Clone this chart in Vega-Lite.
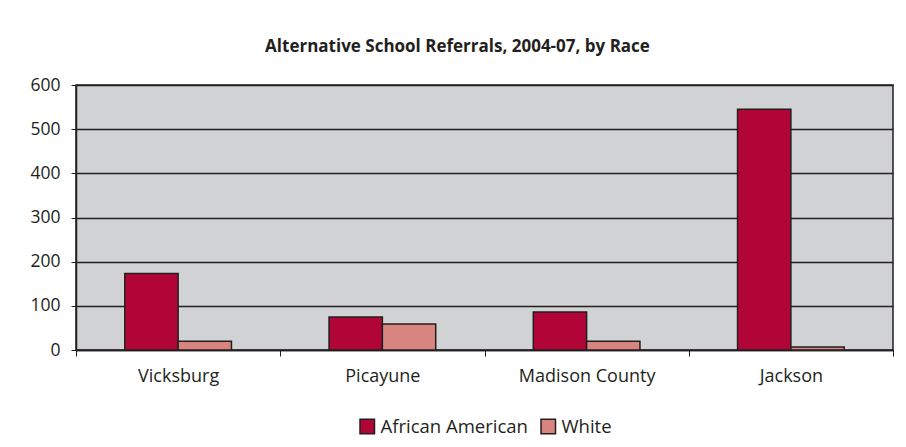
{
  "$schema": "https://vega.github.io/schema/vega-lite/v6.json",
  "width": 817,
  "height": 265,
  "padding": {"left": 29, "top": 38, "right": 10, "bottom": 8},
  "background": "white",
  "title": {
    "text": "Alternative School Referrals, 2004-07, by Race",
    "font": "Open Sans",
    "fontSize": 17,
    "fontWeight": "bold",
    "color": "#231f20",
    "offset": 20,
    "dx": -27
  },
  "data": {
    "values": [
      {"city": "Vicksburg", "race": "African American", "referrals": 173},
      {"city": "Vicksburg", "race": "White", "referrals": 20},
      {"city": "Picayune", "race": "African American", "referrals": 75},
      {"city": "Picayune", "race": "White", "referrals": 59},
      {"city": "Madison County", "race": "African American", "referrals": 86},
      {"city": "Madison County", "race": "White", "referrals": 20},
      {"city": "Jackson", "race": "African American", "referrals": 545},
      {"city": "Jackson", "race": "White", "referrals": 7}
    ]
  },
  "mark": {"type": "bar", "stroke": "#231f20", "strokeWidth": 1.5},
  "encoding": {
    "x": {
      "field": "city",
      "type": "nominal",
      "sort": ["Vicksburg", "Picayune", "Madison County", "Jackson"],
      "scale": {"paddingInner": 0, "paddingOuter": 0},
      "axis": {
        "title": null,
        "labelAngle": 0,
        "tickBand": "extent",
        "tickSize": 6,
        "tickColor": "#231f20",
        "domainColor": "#231f20",
        "domainWidth": 1.5,
        "labelFont": "Open Sans",
        "labelFontSize": 18,
        "labelColor": "#231f20",
        "labelPadding": 11
      }
    },
    "xOffset": {
      "field": "race",
      "type": "nominal",
      "scale": {"paddingInner": 0, "paddingOuter": 0.915}
    },
    "y": {
      "field": "referrals",
      "type": "quantitative",
      "scale": {"domain": [0, 600], "nice": false},
      "axis": {
        "title": null,
        "values": [0, 100, 200, 300, 400, 500, 600],
        "grid": true,
        "gridColor": "#231f20",
        "gridWidth": 1.5,
        "gridOpacity": 1,
        "tickSize": 5,
        "tickColor": "#231f20",
        "domainColor": "#231f20",
        "domainWidth": 1.5,
        "labelFont": "Open Sans",
        "labelFontSize": 17.5,
        "labelColor": "#231f20",
        "labelPadding": 11
      }
    },
    "color": {
      "field": "race",
      "type": "nominal",
      "scale": {"domain": ["African American", "White"], "range": ["#b10537", "#d88580"]},
      "legend": {
        "title": null,
        "orient": "bottom",
        "direction": "horizontal",
        "symbolType": "square",
        "symbolSize": 210,
        "symbolStrokeColor": "#231f20",
        "symbolStrokeWidth": 1.5,
        "labelFont": "Open Sans",
        "labelFontSize": 18.5,
        "labelColor": "#231f20",
        "columnPadding": 10,
        "offset": 32
      }
    }
  },
  "config": {
    "view": {"fill": "#d1d2d4", "stroke": "#231f20", "strokeWidth": 1.5},
    "legend": {"layout": {"bottom": {"anchor": "middle"}}}
  }
}
